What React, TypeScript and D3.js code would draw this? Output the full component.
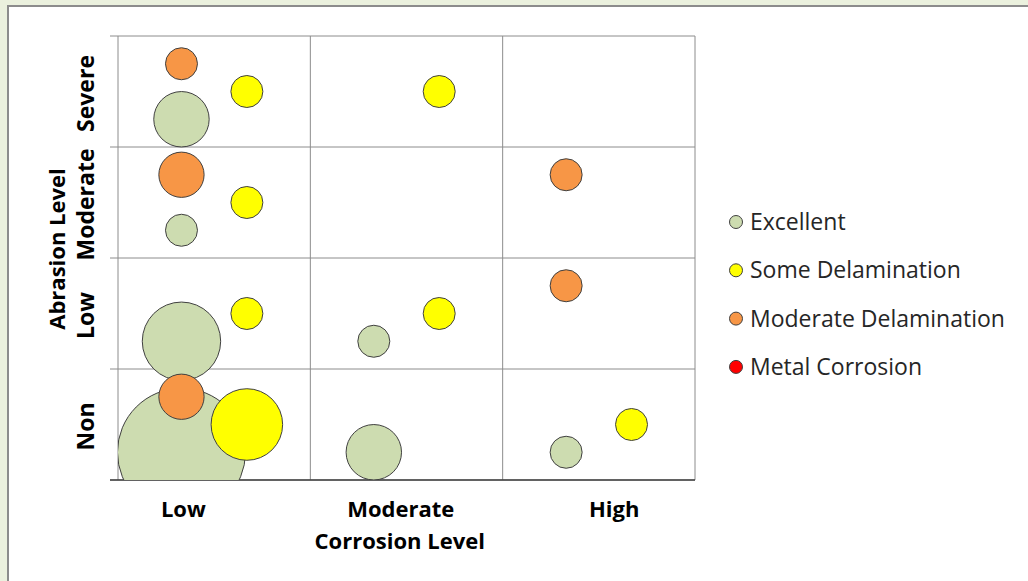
import React from "react";
import * as d3 from "d3";

const xCategories = ["Low", "Moderate", "High"];
const yCategories = ["Non", "Low", "Moderate", "Severe"];
const xLabelPos = [0.34, 1.47, 2.58];

const seriesNames = ["Excellent", "Some Delamination", "Moderate Delamination", "Metal Corrosion"];
const seriesColors = ["#cddcb0", "#ffff00", "#f79646", "#ff0000"];

// [x, y, size]
const excellent: [number, number, number][] = [
  [0.33, 3.25, 3], [0.33, 2.25, 1], [0.33, 1.25, 6], [0.33, 0.25, 16],
  [1.33, 1.25, 1], [1.33, 0.25, 3], [2.33, 0.25, 1],
];
const someDelamination: [number, number, number][] = [
  [0.67, 3.5, 1], [1.67, 3.5, 1], [0.67, 2.5, 1], [0.67, 1.5, 1],
  [1.67, 1.5, 1], [0.67, 0.5, 5], [2.67, 0.5, 1],
];
const moderateDelamination: [number, number, number][] = [
  [0.33, 3.75, 1], [0.33, 2.75, 2], [2.33, 2.75, 1], [2.33, 1.75, 1], [0.33, 0.75, 2],
];
const metalCorrosion: [number, number, number][] = [];

const allSeries = [excellent, someDelamination, moderateDelamination, metalCorrosion];

export default function App() {
  const W = 1028, H = 581;
  const left = 118, right = 695, top = 36, bottom = 480;
  const x = d3.scaleLinear().domain([0, 3]).range([left, right]);
  const y = d3.scaleLinear().domain([0, 4]).range([bottom, top]);
  const r = d3.scaleSqrt().domain([0, 1]).range([0, 16]);
  const font = "'Open Sans', sans-serif";

  const xTicks = d3.range(0, 4);
  const yTicks = d3.range(0, 5);

  return (
    <svg width={W} height={H} style={{ position: "absolute", left: 0, top: 0 }}>
      <defs>
        <clipPath id="plotClip">
          <rect x={left} y={top} width={right - left} height={bottom - top} />
        </clipPath>
      </defs>
      <rect x={0} y={0} width={W} height={H} fill="#ebf1de" />
      <rect x={8} y={6} width={W + 20} height={H + 20} fill="#ffffff" stroke="#8c8c8c" strokeWidth={2} />

      {/* gridlines */}
      {yTicks.map((t) => (
        <line key={"gy" + t} x1={left - 8} x2={right} y1={y(t)} y2={y(t)}
          stroke="#8c8c8c" strokeWidth={1} />
      ))}
      {xTicks.map((t) => (
        <line key={"gx" + t} x1={x(t)} x2={x(t)} y1={top} y2={bottom}
          stroke="#8c8c8c" strokeWidth={1} />
      ))}
      <line x1={left - 8} x2={right} y1={bottom} y2={bottom} stroke="#404040" strokeWidth={1.5} />

      {/* bubbles */}
      <g clipPath="url(#plotClip)">
        {allSeries.map((s, si) =>
          s.map((d, i) => (
            <circle key={si + "-" + i} cx={x(d[0])} cy={y(d[1])} r={r(d[2])}
              fill={seriesColors[si]} stroke="#404040" strokeWidth={1} />
          ))
        )}
      </g>

      {/* x category labels */}
      {xCategories.map((c, i) => (
        <text key={c} x={x(xLabelPos[i])} y={517} textAnchor="middle" fontFamily={font}
          fontWeight="bold" fontSize={22} fill="#000">{c}</text>
      ))}
      <text x={x(1.465)} y={549} textAnchor="middle" fontFamily={font} fontWeight="bold"
        fontSize={22} fill="#000">Corrosion Level</text>

      {/* y category labels */}
      {yCategories.map((c, i) => (
        <text key={c} transform={`translate(94,${y(i + 0.5) + 2}) rotate(-90)`} textAnchor="middle"
          fontFamily={font} fontWeight="bold" fontSize={23} fill="#000">{c}</text>
      ))}
      <text transform={`translate(65,249) rotate(-90)`} textAnchor="middle"
        fontFamily={font} fontWeight="bold" fontSize={22} fill="#000">Abrasion Level</text>

      {/* legend */}
      {seriesNames.map((n, i) => (
        <g key={n} transform={`translate(736,${222 + i * 48.3})`}>
          <circle cx={0} cy={0} r={6.5} fill={seriesColors[i]} stroke="#404040" strokeWidth={1} />
          <text x={14} y={8} fontFamily={font} fontSize={23} fill="#262626">{n}</text>
        </g>
      ))}
    </svg>
  );
}
